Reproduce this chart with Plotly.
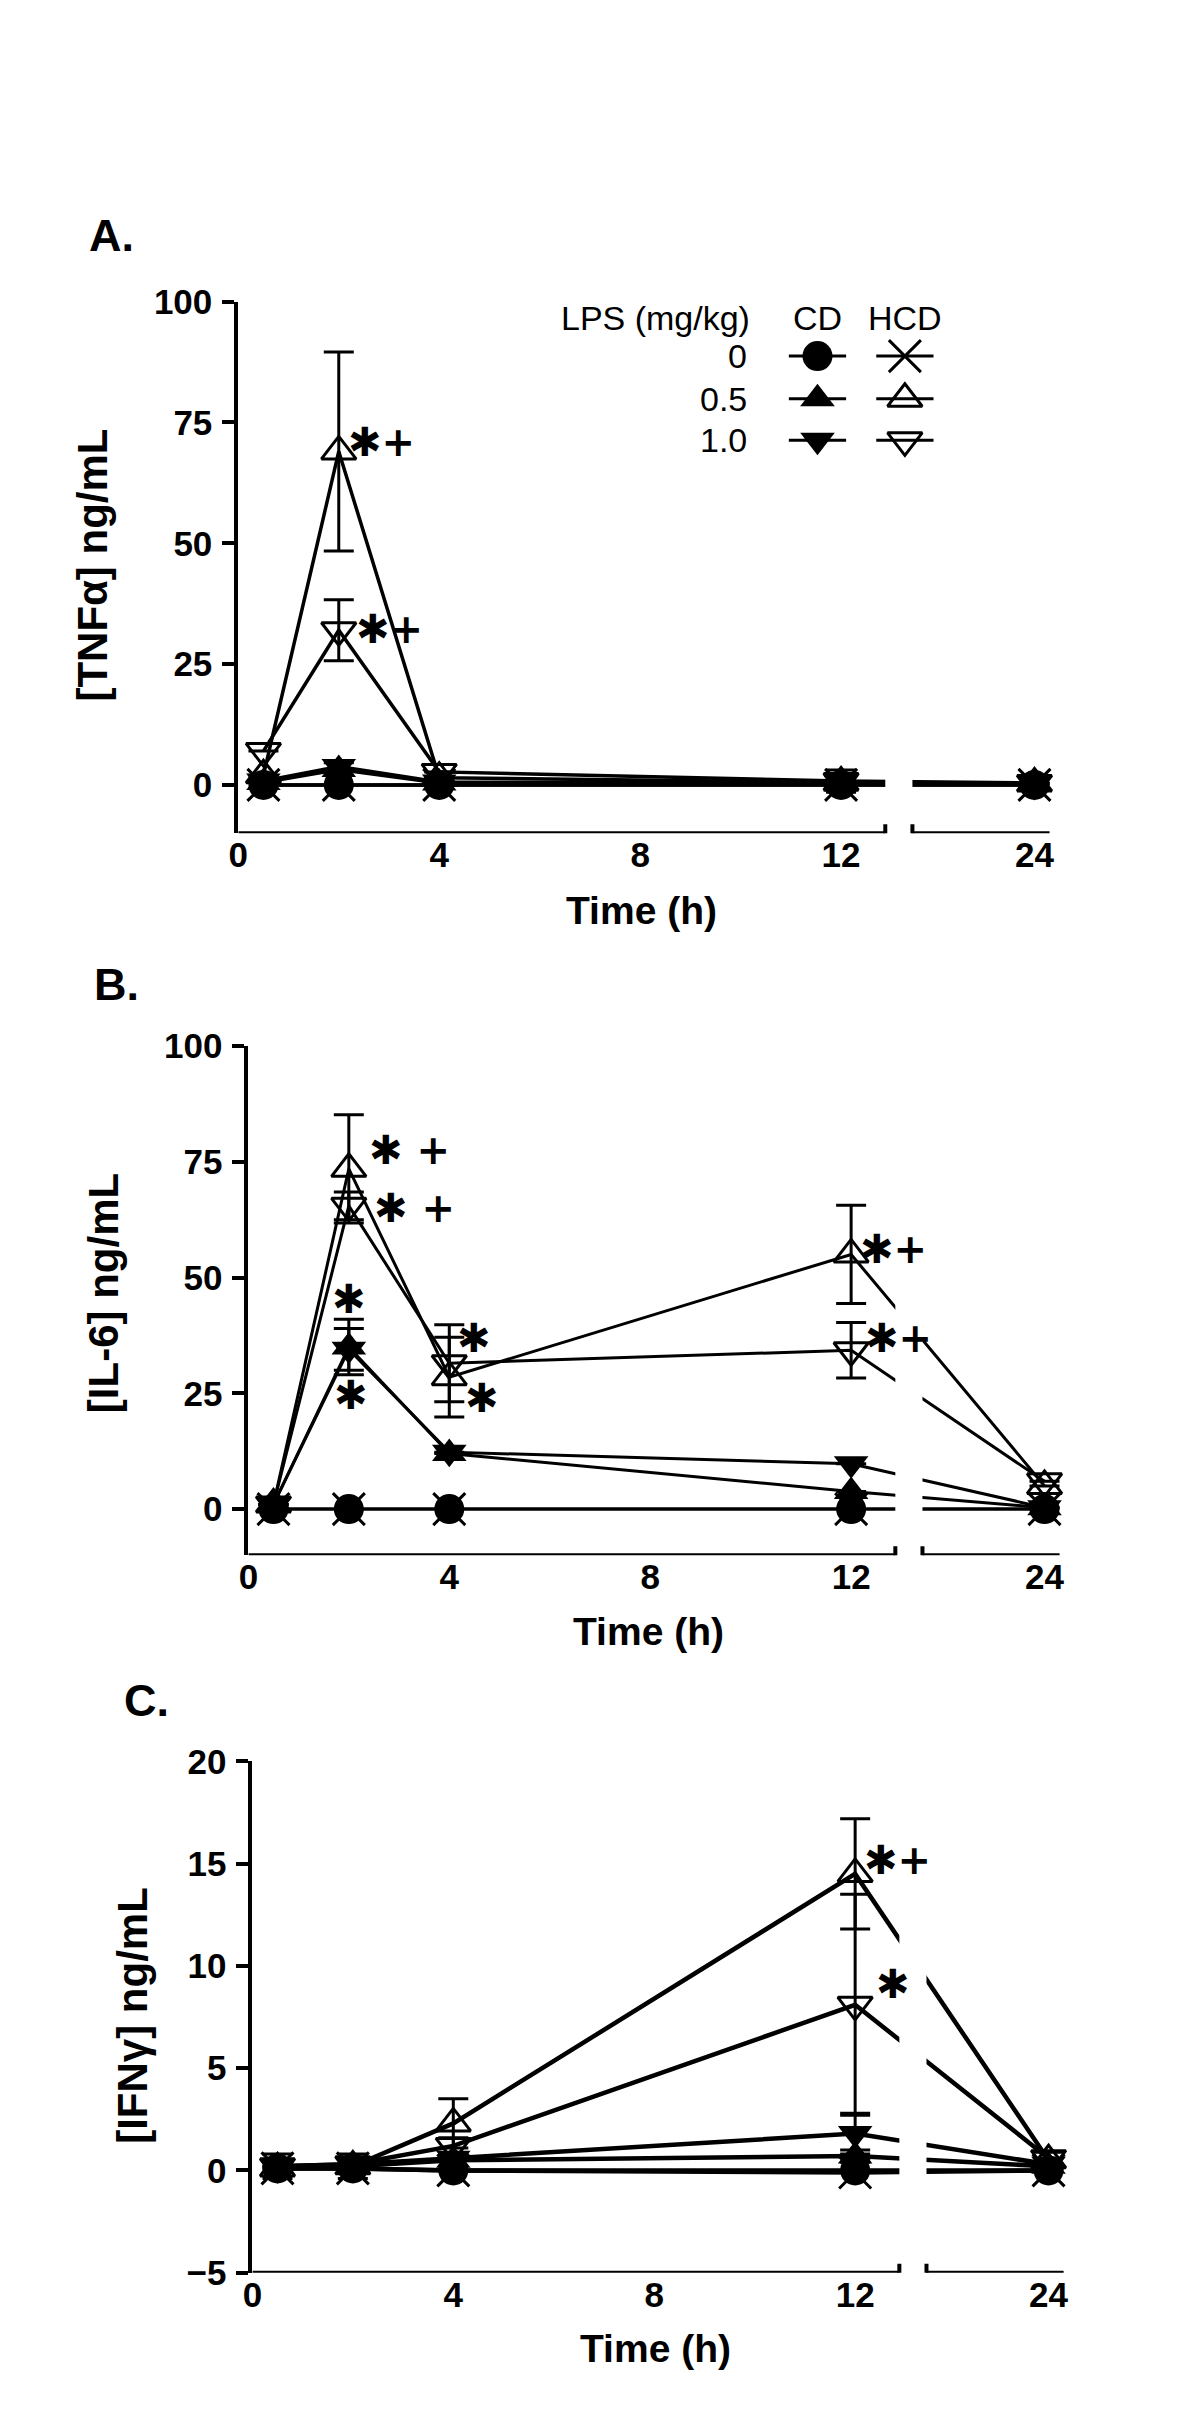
import plotly.graph_objects as go

# page is 1200x2429; the html body has an 8px margin, so the figure is sized to fit inside it
PAGE_W, PAGE_H = 1200, 2429
PAGE_MARGIN = 8
W, H = PAGE_W - 2 * PAGE_MARGIN, PAGE_H - 2 * PAGE_MARGIN
# the photographed page comes out slightly shrunk about its centre; compensate positions
VIEW_SCALE_X = 0.987
VIEW_SCALE_Y = 0.9845
CX, CY = PAGE_W / 2, PAGE_H / 2
FS = 1 / VIEW_SCALE_Y  # size compensation

# ---------------- data ----------------
TIME_H = [0.5, 2, 4, 12, 24]
X_TICKS = [0, 4, 8, 12, 24]
X_TICK_TEXT = ["0", "4", "8", "12", "24"]

GROUPS = ["HCD 0", "CD 0", "CD 0.5", "CD 1.0", "HCD 0.5", "HCD 1.0"]
LPS_DOSES = ["0", "0.5", "1.0"]
DIETS = ["CD", "HCD"]

N = None

# Panel A: TNF-alpha (ng/mL)
TNF_MEAN = {
    "HCD 0":   [0.0, 0.0, 0.0, 0.0, 0.0],
    "CD 0":    [0.0, 0.0, 0.0, 0.0, 0.0],
    "CD 0.5":  [0.5, 3.2, 0.4, 0.2, 0.2],
    "CD 1.0":  [0.8, 3.8, 0.6, 0.3, 0.3],
    "HCD 0.5": [2.0, 69.0, 1.5, 0.5, 0.3],
    "HCD 1.0": [7.0, 32.0, 2.7, 0.8, 0.4],
}
TNF_SEM = {
    "HCD 0":   [N, N, N, N, N],
    "CD 0":    [N, N, N, N, N],
    "CD 0.5":  [N, N, N, N, N],
    "CD 1.0":  [N, 0.8, N, N, N],
    "HCD 0.5": [N, 20.6, N, 1.5, N],
    "HCD 1.0": [N, 6.3, N, 2.3, N],
}

# Panel B: IL-6 (ng/mL)
IL6_MEAN = {
    "HCD 0":   [0.0, 0.0, 0.0, 0.0, 0.0],
    "CD 0":    [0.0, 0.0, 0.0, 0.0, 0.0],
    "CD 0.5":  [1.0, 35.0, 12.0, 3.8, 0.3],
    "CD 1.0":  [1.0, 34.5, 12.3, 9.8, 0.3],
    "HCD 0.5": [1.0, 73.5, 28.5, 55.0, 5.0],
    "HCD 1.0": [1.0, 65.5, 31.5, 34.3, 6.0],
}
IL6_SEM = {
    "HCD 0":   [N, N, N, N, N],
    "CD 0":    [N, N, N, N, N],
    "CD 0.5":  [N, 6.0, N, N, N],
    "CD 1.0":  [N, 4.5, N, N, N],
    "HCD 0.5": [N, 11.7, 8.6, 10.6, N],
    "HCD 1.0": [N, 3.0, 8.3, 6.0, N],
}

# Panel C: IFN-gamma (ng/mL)
IFN_MEAN = {
    "HCD 0":   [0.1, 0.1, 0.0, -0.1, 0.0],
    "CD 0":    [0.1, 0.1, 0.0, 0.0, 0.0],
    "CD 0.5":  [0.2, 0.2, 0.5, 0.7, 0.2],
    "CD 1.0":  [0.2, 0.3, 0.6, 1.8, 0.3],
    "HCD 0.5": [0.1, 0.2, 2.3, 14.5, 0.5],
    "HCD 1.0": [0.2, 0.3, 1.2, 8.1, 0.6],
}
IFN_SEM = {
    "HCD 0":   [N, N, N, N, N],
    "CD 0":    [N, N, N, N, N],
    "CD 0.5":  [0.6, 0.6, N, 0.3, N],
    "CD 1.0":  [N, N, N, 1.0, N],
    "HCD 0.5": [N, N, 1.2, 2.7, 0.4],
    "HCD 1.0": [N, N, 0.4, 5.4, 0.3],
}

# ---------------- broken x axis (0-13 h | 22-24 h) ----------------
SEG1_END = 12.88
SEG2_START = 13.42
SEG2_END = 16.15
SEG2_T0 = 22.0
SEG2_K = 1.215
X_RANGE = [0, 16.3]


def disp(t):
    return t if t <= 13 else SEG2_START + (t - SEG2_T0) * SEG2_K


# ---------------- styling ----------------
FONT = "Liberation Sans, Arial, sans-serif"
STAR_FONT = "DejaVu Sans, sans-serif"
TICK_FONT = round(34 * FS)

MARKERS = {
    "HCD 0":   dict(symbol="x-thin", size=32, color="black", line=dict(color="black", width=3)),
    "CD 0":    dict(symbol="circle", size=30, color="black", line=dict(width=0)),
    "CD 0.5":  dict(symbol="triangle-up", size=30, color="black", line=dict(width=0)),
    "CD 1.0":  dict(symbol="triangle-down", size=30, color="black", line=dict(width=0)),
    "HCD 0.5": dict(symbol="triangle-up-open", size=30, color="black", line=dict(color="black", width=3)),
    "HCD 1.0": dict(symbol="triangle-down-open", size=30, color="black", line=dict(color="black", width=3)),
}

# target page-pixel geometry of each panel
PANELS = [
    dict(letter="A.", mean=TNF_MEAN, sem=TNF_SEM, yrange=[-10, 100], yticks=[0, 25, 50, 75, 100],
         ytitle="[TNFα] ng/mL", px_x=(235, 1050), px_y=(300.5, 832.5), lw=3.5, gap_top=50,
         letter_pos=(109, 234), ytitle_pos=(90, 564), xtitle_pos=(636, 910),
         stars=[("✱+", 2.85, 71), ("✱+", 3.0, 32.3)]),
    dict(letter="B.", mean=IL6_MEAN, sem=IL6_SEM, yrange=[-10, 100], yticks=[0, 25, 50, 75, 100],
         ytitle="[IL-6] ng/mL", px_x=(245, 1060), px_y=(1045.5, 1555.1), lw=3, gap_top=100,
         letter_pos=(114, 984), ytitle_pos=(101, 1293), xtitle_pos=(643, 1631),
         stars=[("✱ +", 3.2, 77.5), ("✱ +", 3.3, 65.0), ("✱", 2.0, 45.3), ("✱", 2.05, 24.6),
                ("✱", 4.5, 36.9), ("✱", 4.65, 24.0), ("✱+", 12.85, 56.2), ("✱+", 12.95, 36.9)]),
    dict(letter="C.", mean=IFN_MEAN, sem=IFN_SEM, yrange=[-5, 20], yticks=[-5, 0, 5, 10, 15, 20],
         ytitle="[IFNγ] ng/mL", px_x=(249, 1064), px_y=(1761.3, 2272.9), lw=4.5, gap_top=20,
         letter_pos=(144, 1700), ytitle_pos=(130, 2015), xtitle_pos=(650, 2349),
         stars=[("✱+", 12.85, 15.2), ("✱", 12.75, 9.1)]),
]

# legend geometry (target page pixels)
LEG_HEADER_Y = 317
LEG_ROW_Y = [355, 397.7, 439.3]
LEG_LABEL_RIGHT = 746
LEG_COL_X = {"CD": 811.5, "HCD": 898.5}
LEG_HALF = 28.5
LEG_FONT = round(33 * FS)


def px2paper(x, y):
    # target page pixel -> figure paper coordinate
    fx = CX + (x - CX) / VIEW_SCALE_X
    fy = CY + (y - CY) / VIEW_SCALE_Y
    return (fx - PAGE_MARGIN) / W, 1 - (fy - PAGE_MARGIN) / H


fig = go.Figure()
layout = dict(width=W, height=H, margin=dict(l=0, r=0, t=0, b=0), autosize=False,
              paper_bgcolor="white", plot_bgcolor="rgba(0,0,0,0)", showlegend=False,
              font=dict(family=FONT, color="black"))
shapes = []
annotations = []

x_tickvals = [disp(t) for t in X_TICKS]
x_pos = [disp(t) for t in TIME_H]

for i, p in enumerate(PANELS):
    n = "" if i == 0 else str(i + 1)
    xa, ya = "x" + n, "y" + n
    x0p, ytop = px2paper(p["px_x"][0], p["px_y"][0])
    x1p, ybot = px2paper(p["px_x"][1], p["px_y"][1])
    layout["xaxis" + n] = dict(domain=[x0p, x1p], range=X_RANGE, anchor=ya, showline=False,
                               showgrid=False, zeroline=False, ticks="",
                               tickvals=x_tickvals, ticktext=X_TICK_TEXT,
                               tickfont=dict(size=TICK_FONT, family=FONT, color="black", weight="bold"),
                               ticklabelstandoff=-2, fixedrange=True)
    layout["yaxis" + n] = dict(domain=[ybot, ytop], range=p["yrange"], anchor=xa, showline=True,
                               linecolor="black", linewidth=4, showgrid=False, zeroline=False,
                               ticks="outside", ticklen=12, tickwidth=4, tickcolor="black",
                               tickvals=p["yticks"],
                               tickfont=dict(size=TICK_FONT, family=FONT, color="black", weight="bold"),
                               ticklabelstandoff=3, fixedrange=True)

    for g in GROUPS:
        sem = p["sem"][g]
        has_err = any(v is not None for v in sem)
        fig.add_trace(go.Scatter(
            x=x_pos, y=p["mean"][g], mode="lines+markers", xaxis=xa, yaxis=ya,
            line=dict(color="black", width=p["lw"]),
            marker=MARKERS[g], cliponaxis=False,
            error_y=dict(type="data", array=sem, visible=has_err, color="black",
                         thickness=3, width=15),
            name=g, hoverinfo="skip"))

    ymin, ymax = p["yrange"]
    # gap in the data lines at the axis break
    shapes.append(dict(type="rect", xref=xa, yref=ya, x0=SEG1_END, x1=SEG2_START,
                       y0=ymin, y1=p["gap_top"], fillcolor="white", line=dict(width=0),
                       layer="above"))
    # broken x-axis line
    for a, b in [(0, SEG1_END), (SEG2_START, SEG2_END)]:
        shapes.append(dict(type="line", xref=xa, yref=ya, x0=a, x1=b, y0=ymin, y1=ymin,
                           line=dict(color="black", width=4), layer="above"))
    for c in [SEG1_END, SEG2_START]:
        shapes.append(dict(type="line", xref=xa, yref=ya, x0=c, x1=c, ysizemode="pixel",
                           yanchor=ymin, y0=-9, y1=9,
                           line=dict(color="black", width=4), layer="above"))

    lx, ly = px2paper(*p["letter_pos"])
    annotations.append(dict(text="<b>%s</b>" % p["letter"], x=lx, y=ly, xref="paper", yref="paper",
                            xanchor="center", yanchor="middle", showarrow=False,
                            font=dict(size=round(44 * FS), family=FONT, color="black")))
    tx, ty = px2paper(*p["ytitle_pos"])
    annotations.append(dict(text="<b>%s</b>" % p["ytitle"], x=tx, y=ty, xref="paper", yref="paper",
                            xanchor="center", yanchor="middle", showarrow=False, textangle=-90,
                            font=dict(size=42, family=FONT, color="black")))
    tx, ty = px2paper(*p["xtitle_pos"])
    annotations.append(dict(text="<b>Time (h)</b>", x=tx, y=ty, xref="paper", yref="paper",
                            xanchor="center", yanchor="middle", showarrow=False,
                            font=dict(size=round(38 * FS), family=FONT, color="black")))
    for txt, sx, sy in p["stars"]:
        annotations.append(dict(text="<b>%s</b>" % txt, x=sx, y=sy, xref=xa, yref=ya,
                                xanchor="center", yanchor="middle", showarrow=False,
                                font=dict(size=40, family=STAR_FONT, color="black")))

# ---------------- legend (panel A) on an overlay axis in target page pixels ----------------
lx0 = CX + (PAGE_MARGIN - CX) * VIEW_SCALE_X
lx1 = CX + (PAGE_MARGIN + W - CX) * VIEW_SCALE_X
ly0 = CY + (PAGE_MARGIN - CY) * VIEW_SCALE_Y
ly1 = CY + (PAGE_MARGIN + H - CY) * VIEW_SCALE_Y
layout["xaxis4"] = dict(domain=[0, 1], range=[lx0, lx1], anchor="y4", visible=False, fixedrange=True)
layout["yaxis4"] = dict(domain=[0, 1], range=[ly1, ly0], anchor="x4", visible=False, fixedrange=True)

for diet in DIETS:
    for r, dose in enumerate(LPS_DOSES):
        g = "%s %s" % (diet, dose)
        cx, cy = LEG_COL_X[diet], LEG_ROW_Y[r]
        fig.add_trace(go.Scatter(x=[cx - LEG_HALF, cx + LEG_HALF], y=[cy, cy], mode="lines",
                                 xaxis="x4", yaxis="y4", line=dict(color="black", width=3),
                                 hoverinfo="skip"))
        fig.add_trace(go.Scatter(x=[cx], y=[cy], mode="markers", xaxis="x4", yaxis="y4",
                                 marker=MARKERS[g], hoverinfo="skip"))

hx, hy = px2paper(LEG_LABEL_RIGHT, LEG_HEADER_Y)
annotations.append(dict(text="LPS (mg/kg)", x=hx, y=hy, xref="paper", yref="paper",
                        xanchor="right", yanchor="middle", showarrow=False,
                        font=dict(size=LEG_FONT, family=FONT, color="black")))
for diet in DIETS:
    dx, dy = px2paper(LEG_COL_X[diet], LEG_HEADER_Y)
    annotations.append(dict(text=diet, x=dx, y=dy, xref="paper", yref="paper",
                            xanchor="center", yanchor="middle", showarrow=False,
                            font=dict(size=LEG_FONT, family=FONT, color="black")))
for r, dose in enumerate(LPS_DOSES):
    dx, dy = px2paper(LEG_LABEL_RIGHT - 3, LEG_ROW_Y[r])
    annotations.append(dict(text=dose, x=dx, y=dy, xref="paper", yref="paper",
                            xanchor="right", yanchor="middle", showarrow=False,
                            font=dict(size=LEG_FONT, family=FONT, color="black")))

layout["shapes"] = shapes
layout["annotations"] = annotations
fig.update_layout(**layout)
fig.write_html("out.html")
